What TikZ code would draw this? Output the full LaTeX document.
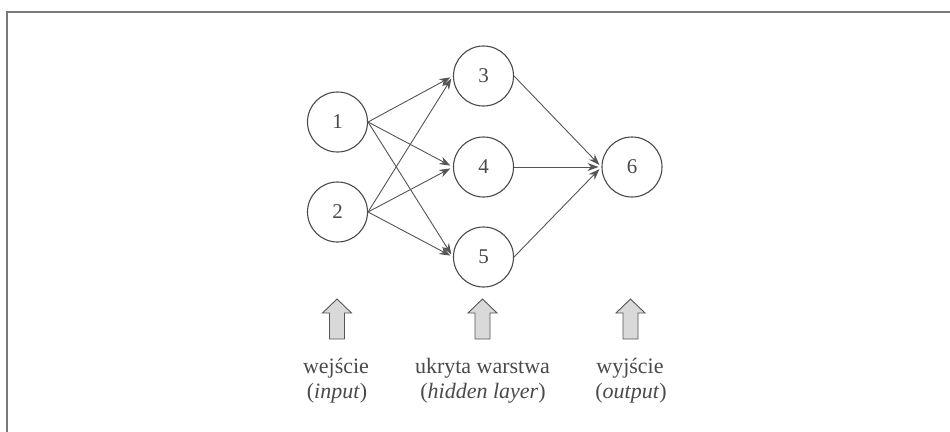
\documentclass[tikz,border=0pt]{standalone}
\usepackage{fontspec}
\setmainfont{Liberation Serif}
\usetikzlibrary{arrows.meta}
\definecolor{ink}{HTML}{4A4A4A}
\definecolor{edgec}{HTML}{555555}
\definecolor{framec}{HTML}{7A7A7A}
\definecolor{blockfill}{HTML}{D9D9D9}
\begin{document}
\begin{tikzpicture}[x=1pt,y=-1pt,
  neuron/.style={circle,draw=ink,line width=1.1pt,minimum size=60pt,inner sep=0pt,text=ink,font=\fontsize{21}{24}\selectfont},
  link/.style={draw=edgec,line width=0.9pt,-{Stealth[length=11pt,width=8pt]},shorten >=3pt},
  blockarrow/.style={draw=edgec,line width=0.9pt,fill=blockfill},
  lbl/.style={text=ink,anchor=base,inner sep=0pt,font=\fontsize{22}{25}\selectfont}]
\useasboundingbox (0,0) rectangle (950,431);
\fill[white] (0,0) rectangle (950,431);
% frame
\draw[framec,line width=1.6pt] (7,440) -- (7,12) -- (960,12);
% neurons
\node[neuron] (n1) at (337.5,122) {1};
\node[neuron] (n2) at (337.5,212) {2};
\node[neuron] (n3) at (483.5,76) {3};
\node[neuron] (n4) at (483.5,167) {4};
\node[neuron] (n5) at (483.5,257) {5};
\node[neuron] (n6) at (632,167) {6};
% connections
\foreach \s in {n1,n2}{
  \foreach \t in {n3,n4,n5}{
    \draw[link] (\s.east) -- (\t.west);
  }
}
\foreach \s in {n3,n4,n5}{
  \draw[link] (\s.east) -- (n6.west);
}
% block arrows
\foreach \cx/\nm in {337/inarr,482.5/hidarr,630.5/outarr}{
  \draw[blockarrow] (\cx-7.5,339) -- (\cx-7.5,313) -- (\cx-14.5,313) -- (\cx,299)
     -- (\cx+14.5,313) -- (\cx+7.5,313) -- (\cx+7.5,339) -- cycle;
}
% labels
\node[lbl] (l1a) at (336,373) {wejście};
\node[lbl] (l1b) at (337,398) {(\textit{input})};
\node[lbl] (l2a) at (482.5,373) {ukryta warstwa};
\node[lbl] (l2b) at (483,398) {(\textit{hidden layer})};
\node[lbl] (l3a) at (630,373) {wyjście};
\node[lbl] (l3b) at (631,398) {(\textit{output})};
\end{tikzpicture}
\end{document}
